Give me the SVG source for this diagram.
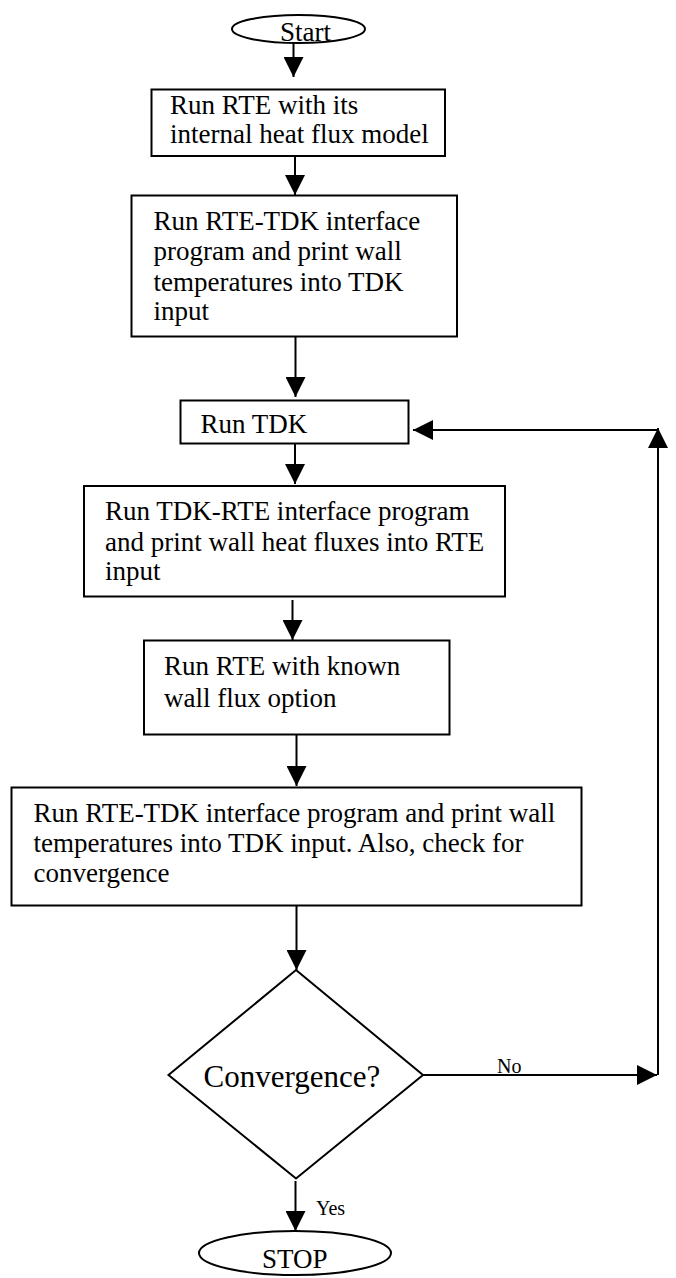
<svg xmlns="http://www.w3.org/2000/svg" width="676" height="1278" viewBox="0 0 676 1278">
<defs>
<style>
.box{fill:#fff;stroke:#000;stroke-width:2}
.t{font-family:"Liberation Serif","Times New Roman",serif;font-size:27px;fill:#000}
.big{font-size:31px}
.small{font-size:20px}
.ln{fill:none;stroke:#000;stroke-width:2}
</style>
<marker id="ah" markerUnits="userSpaceOnUse" markerWidth="20" markerHeight="20" refX="20" refY="10" orient="auto">
<path d="M0,0 L20,10 L0,20 Z" fill="#000"/>
</marker>
</defs>
<rect width="676" height="1278" fill="#fff"/>
<g id="connectors">
<line class="ln" x1="293.5" y1="43" x2="293.5" y2="77" marker-end="url(#ah)"/>
<line class="ln" x1="295" y1="156" x2="295" y2="195" marker-end="url(#ah)"/>
<line class="ln" x1="295.5" y1="332" x2="295.5" y2="397" marker-end="url(#ah)"/>
<line class="ln" x1="295" y1="443" x2="295" y2="484" marker-end="url(#ah)"/>
<line class="ln" x1="292.5" y1="600" x2="292.5" y2="640" marker-end="url(#ah)"/>
<line class="ln" x1="296.5" y1="734" x2="296.5" y2="786" marker-end="url(#ah)"/>
<line class="ln" x1="296.5" y1="905" x2="296.5" y2="970" marker-end="url(#ah)"/>
<line class="ln" x1="423" y1="1075" x2="657" y2="1075" marker-end="url(#ah)"/>
<line class="ln" x1="658" y1="1075" x2="658" y2="428" marker-end="url(#ah)"/>
<line class="ln" x1="659" y1="430" x2="413" y2="430" marker-end="url(#ah)"/>
<line class="ln" x1="295.5" y1="1181" x2="295.5" y2="1231" marker-end="url(#ah)"/>
<text class="t small" x="497" y="1072.5">No</text>
<text class="t small" x="316" y="1215">Yes</text>
</g>
<g id="start">
<ellipse class="box" cx="298.5" cy="29" rx="66.5" ry="14"/>
<text class="t" x="280" y="40.5">Start</text>
</g>
<g id="box1">
<rect class="box" x="151.5" y="89.5" width="293.5" height="66.5"/>
<text class="t" x="170" y="113.5">Run RTE with its</text>
<text class="t" x="170" y="143">internal heat flux model</text>
</g>
<g id="box2">
<rect class="box" x="131.5" y="195.5" width="325.5" height="141"/>
<text class="t" x="153.5" y="229.5">Run RTE-TDK interface</text>
<text class="t" x="153.5" y="260">program and print wall</text>
<text class="t" x="153.5" y="290.5">temperatures into TDK</text>
<text class="t" x="153.5" y="320">input</text>
</g>
<g id="box3">
<rect class="box" x="180.5" y="400.5" width="228" height="43"/>
<text class="t" x="200.5" y="433">Run TDK</text>
</g>
<g id="box4">
<rect class="box" x="84" y="486" width="421" height="110.5"/>
<text class="t" x="105" y="519.5">Run TDK-RTE interface program</text>
<text class="t" x="105" y="550.5">and print wall heat fluxes into RTE</text>
<text class="t" x="105" y="580">input</text>
</g>
<g id="box5">
<rect class="box" x="144" y="640.5" width="305.5" height="94"/>
<text class="t" x="164" y="675">Run RTE with known</text>
<text class="t" x="164" y="706.5">wall flux option</text>
</g>
<g id="box6">
<rect class="box" x="11.5" y="787.5" width="570" height="118"/>
<text class="t" x="33.5" y="821.5">Run RTE-TDK interface program and print wall</text>
<text class="t" x="33.5" y="851.5">temperatures into TDK input. Also, check for</text>
<text class="t" x="33.5" y="881.5">convergence</text>
</g>
<g id="decision">
<polygon class="box" points="296,970 423,1075 296,1178.5 168.5,1075"/>
<text class="t big" x="203.5" y="1087">Convergence?</text>
</g>
<g id="stop">
<ellipse class="box" cx="295" cy="1253" rx="96" ry="22"/>
<text class="t" x="262" y="1268">STOP</text>
</g>
</svg>
